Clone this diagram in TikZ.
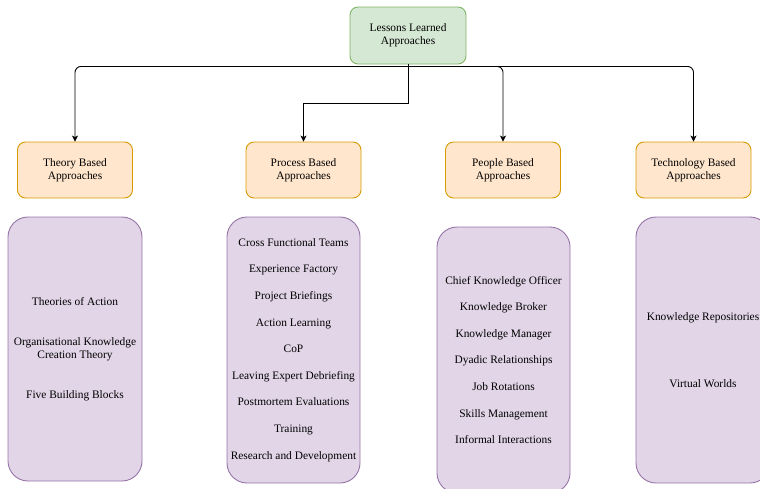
\documentclass[tikz,border=0pt]{standalone}
\usepackage{fontspec}
\setmainfont{Liberation Serif}
\usetikzlibrary{arrows.meta, positioning}
\definecolor{rootfill}{HTML}{D5E8D4}
\definecolor{rootline}{HTML}{82B366}
\definecolor{catfill}{HTML}{FFE6CC}
\definecolor{catline}{HTML}{D79B00}
\definecolor{listfill}{HTML}{E1D5E7}
\definecolor{listline}{HTML}{9673A6}
\tikzstyle{chart}=[x=1pt, y=-1pt, >={Stealth[length=6pt,width=6pt,inset=1.5pt]},
  font=\fontsize{11.4}{13.3}\selectfont]
\tikzstyle{root}=[draw=rootline, fill=rootfill, line width=0.9pt, rounded corners=8pt,
  minimum width=116pt, minimum height=57pt, align=center]
\tikzstyle{category}=[draw=catline, fill=catfill, line width=0.9pt, rounded corners=8pt,
  minimum width=115pt, minimum height=56pt, align=center]
\tikzstyle{itemlist}=[draw=listline, fill=listfill, line width=0.9pt, rounded corners=20pt,
  minimum width=134pt, align=center, inner sep=0pt]
\tikzstyle{link}=[->, line width=0.9pt]

\begin{document}
\begin{tikzpicture}[chart]
  \useasboundingbox (0,0) rectangle (760,488);
  \node[root] (lessons) at (408,35.5) {Lessons Learned\\Approaches};
  \node[category] (theory) at (75,170) {Theory Based\\Approaches};
  \node[category] (process) at (303.5,170) {Process Based\\Approaches};
  \node[category] (people) at (503,170) {People Based\\Approaches};
  \node[category] (technology) at (693.5,170) {Technology Based\\Approaches};
  \node[itemlist, minimum height=264pt] (theorylist) at (75,349)
    {Theories of Action\\[26.6pt]Organisational Knowledge\\Creation Theory\\[26.6pt]Five Building Blocks};
  \node[itemlist, minimum width=133pt, minimum height=266pt] (processlist) at (293.5,350)
    {Cross Functional Teams\\[13.3pt]Experience Factory\\[13.3pt]Project Briefings\\[13.3pt]Action Learning\\[13.3pt]CoP\\[13.3pt]Leaving Expert Debriefing\\[13.3pt]Postmortem Evaluations\\[13.3pt]Training\\[13.3pt]Research and Development};
  \node[itemlist, minimum width=133pt, minimum height=266pt] (peoplelist) at (503.5,360)
    {Chief Knowledge Officer\\[13.3pt]Knowledge Broker\\[13.3pt]Knowledge Manager\\[13.3pt]Dyadic Relationships\\[13.3pt]Job Rotations\\[13.3pt]Skills Management\\[13.3pt]Informal Interactions};
  \node[itemlist, minimum height=266pt] (techlist) at (703,350)
    {Knowledge Repositories\\[53pt]Virtual Worlds};
  % connectors
  \coordinate (hub) at ([yshift=-2pt]lessons.south);
  \coordinate (elbow) at ([yshift=-39pt]lessons.south);
  \draw[line width=0.9pt] (lessons.south) -- (hub);
  \draw[link, rounded corners=6pt] (hub) -| (theory.north);
  \draw[link, rounded corners=6pt] (hub) -| (people.north);
  \draw[link, rounded corners=6pt] (hub) -| (technology.north);
  \draw[link] (lessons.south) -- (elbow) -| (process.north);
\end{tikzpicture}
\end{document}
